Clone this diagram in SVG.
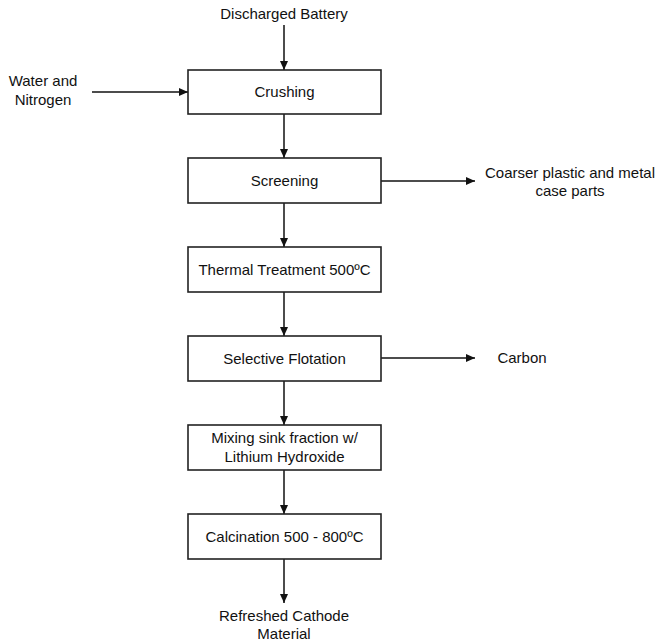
<svg xmlns="http://www.w3.org/2000/svg" width="658" height="644" viewBox="0 0 658 644">
  <style>
    .box { fill: #ffffff; stroke: #222222; stroke-width: 1.6; }
    .lbl { font-family: "Liberation Sans", Arial, sans-serif; font-size: 15px; fill: #111111; text-anchor: middle; }
    .edge { stroke: #111111; stroke-width: 1.5; fill: none; marker-end: url(#arrow); }
  </style>
  <defs>
    <marker id="arrow" markerWidth="10" markerHeight="10" refX="9" refY="5" orient="auto" markerUnits="userSpaceOnUse">
      <path d="M0,1 L9,5 L0,9 Z" fill="#111111"/>
    </marker>
  </defs>
  <rect width="658" height="644" fill="#ffffff"/>

  <!-- connectors -->
  <g id="connectors">
    <line class="edge" x1="284" y1="25" x2="284" y2="70"/>
    <line class="edge" x1="92" y1="92" x2="188" y2="92"/>
    <line class="edge" x1="284" y1="114" x2="284" y2="158"/>
    <line class="edge" x1="381" y1="181" x2="475" y2="181"/>
    <line class="edge" x1="284" y1="203" x2="284" y2="247"/>
    <line class="edge" x1="284" y1="292" x2="284" y2="336"/>
    <line class="edge" x1="381" y1="358" x2="475" y2="358"/>
    <line class="edge" x1="284" y1="381" x2="284" y2="425"/>
    <line class="edge" x1="284" y1="470" x2="284" y2="514"/>
    <line class="edge" x1="284" y1="559" x2="284" y2="603"/>
  </g>

  <!-- inputs and outputs -->
  <g id="discharged-battery">
    <text class="lbl" x="284" y="19">Discharged Battery</text>
  </g>
  <g id="water-nitrogen">
    <text class="lbl" x="43" y="86">Water and</text>
    <text class="lbl" x="43" y="105">Nitrogen</text>
  </g>
  <g id="coarse-parts">
    <text class="lbl" x="570" y="178">Coarser plastic and metal</text>
    <text class="lbl" x="570" y="196">case parts</text>
  </g>
  <g id="carbon">
    <text class="lbl" x="522" y="363">Carbon</text>
  </g>
  <g id="cathode-material">
    <text class="lbl" x="284" y="621">Refreshed Cathode</text>
    <text class="lbl" x="284" y="639">Material</text>
  </g>

  <!-- process steps -->
  <g id="crushing">
    <rect class="box" x="188" y="70" width="193" height="44"/>
    <text class="lbl" x="284.5" y="97">Crushing</text>
  </g>
  <g id="screening">
    <rect class="box" x="188" y="158" width="193" height="45"/>
    <text class="lbl" x="284.5" y="186">Screening</text>
  </g>
  <g id="thermal-treatment">
    <rect class="box" x="188" y="247" width="193" height="45"/>
    <text class="lbl" x="284.5" y="275">Thermal Treatment 500ºC</text>
  </g>
  <g id="selective-flotation">
    <rect class="box" x="188" y="336" width="193" height="45"/>
    <text class="lbl" x="284.5" y="364">Selective Flotation</text>
  </g>
  <g id="mixing">
    <rect class="box" x="188" y="425" width="193" height="45"/>
    <text class="lbl" x="284.5" y="443">Mixing sink fraction w/</text>
    <text class="lbl" x="284.5" y="462">Lithium Hydroxide</text>
  </g>
  <g id="calcination">
    <rect class="box" x="188" y="514" width="193" height="45"/>
    <text class="lbl" x="284.5" y="542">Calcination 500 - 800ºC</text>
  </g>
</svg>
